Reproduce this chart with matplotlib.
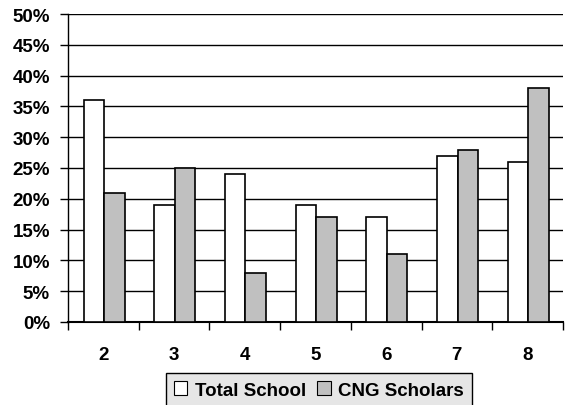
import matplotlib
matplotlib.use("Agg")
import matplotlib.pyplot as plt
import numpy as np

categories = ["2", "3", "4", "5", "6", "7", "8"]
total_school = [36, 19, 24, 19, 17, 27, 26]
cng_scholars = [21, 25, 8, 17, 11, 28, 38]
yticks = [0, 5, 10, 15, 20, 25, 30, 35, 40, 45, 50]
ytick_labels = [f"{v}%" for v in yticks]

plt.rcParams['font.family'] = ['Liberation Sans', 'DejaVu Sans']
plt.rcParams['font.weight'] = 'bold'
FS = 13.5

fig = plt.figure(figsize=(5.68, 4.06), dpi=100)
ax = fig.add_axes([68/568, 1 - 323/406, (563-68)/568, (323-15)/406])

x = np.arange(len(categories))
w = 0.29
ax.bar(x - w/2 + 0.01, total_school, w, color='white', edgecolor='black', linewidth=1.2, zorder=3)
ax.bar(x + w/2 + 0.01, cng_scholars, w, color='#c0c0c0', edgecolor='black', linewidth=1.2, zorder=3)

ax.set_xlim(-0.5, len(categories) - 0.5)
ax.set_ylim(0, 50)
ax.set_yticks(yticks)
ax.set_yticklabels(ytick_labels, fontsize=FS, fontweight='bold')
ax.yaxis.grid(True, color='black', linewidth=1.0, zorder=0)
ax.set_axisbelow(True)

ax.set_xticks(x)
ax.set_xticklabels(categories, fontsize=FS, fontweight='bold')
ax.set_xticks(np.arange(-0.5, len(categories)), minor=True)
ax.tick_params(axis='x', which='major', length=0, pad=17)
ax.tick_params(axis='x', which='minor', length=6, width=1, direction='out', color='black')
ax.tick_params(axis='y', length=6, width=1, direction='out', pad=7, color='black')

for s in ['top', 'right']:
    ax.spines[s].set_visible(False)
ax.spines['left'].set_linewidth(1.0)
ax.spines['bottom'].set_linewidth(1.5)

h1 = plt.Rectangle((0, 0), 1, 1, facecolor='white', edgecolor='black', linewidth=0.8)
h2 = plt.Rectangle((0, 0), 1, 1, facecolor='#c0c0c0', edgecolor='black', linewidth=0.8)
leg = fig.legend([h1, h2], ["Total School", "CNG Scholars"], loc='upper center',
                 bbox_to_anchor=(319/568, 1 - 374/406), ncol=2, frameon=True,
                 fancybox=False, framealpha=1, facecolor='#e6e6e6', edgecolor='black',
                 prop={'size': FS, 'weight': 'bold'}, handlelength=0.7, handleheight=0.7,
                 handletextpad=0.4, columnspacing=0.6, borderpad=0.45, borderaxespad=0)
leg.get_frame().set_linewidth(1.0)

fig.savefig("out.png", dpi=100)
